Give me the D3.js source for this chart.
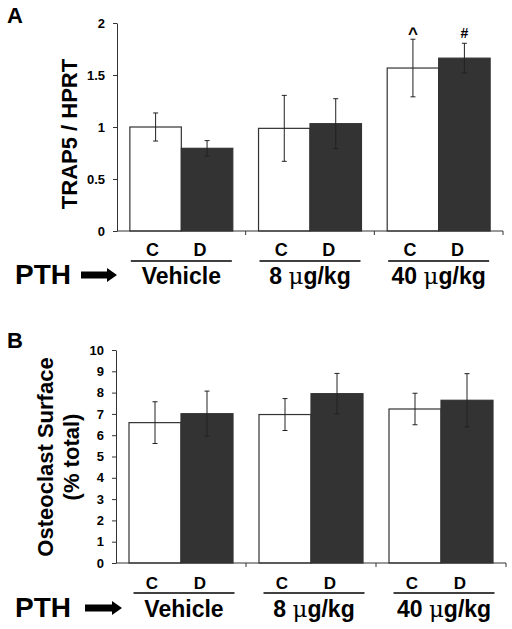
<!DOCTYPE html>
<html>
<head>
<meta charset="utf-8">
<script src="https://cdn.jsdelivr.net/npm/d3@7"></script>
<style>
html,body{margin:0;padding:0;background:#fff;}
svg{display:block;}
text{font-family:"Liberation Sans",Arial,sans-serif;font-weight:bold;fill:#000;}
</style>
</head>
<body>
<svg id="chart" width="512" height="629"></svg>
<script>
// ---- data ----
const groups = ["Vehicle", "8 \u03bcg/kg", "40 \u03bcg/kg"];
const subgroups = ["C", "D"];
const trapMeans = [[1.00, 0.795], [0.987, 1.032], [1.567, 1.662]];
const trapErr   = [[0.135, 0.074], [0.317, 0.24], [0.277, 0.143]];
const trapMarks = [["", ""], ["", ""], ["^", "#"]];
const ocMeans = [[6.59, 7.01], [6.97, 7.95], [7.23, 7.64]];
const ocErr   = [[0.98, 1.06], [0.75, 0.95], [0.74, 1.25]];
const trapTicks = [0, 0.5, 1, 1.5, 2];
const ocTicks = [0,1,2,3,4,5,6,7,8,9,10];

const svg = d3.select("#chart");
const fills = {C: "#ffffff", D: "#333333"};
const lineCol = "#333";

function groupLabel(sel, label) {
  // render the Greek mu in a lighter serif face, like the original
  const parts = label.split("\u03bc");
  parts.forEach((p, i) => {
    if (i > 0) sel.append("tspan").attr("font-family", "DejaVu Serif, serif")
      .attr("font-weight", "normal").text("\u03bc");
    sel.append("tspan").text(p);
  });
}

function panel(cfg) {
  const g = svg.append("g");
  const x = d3.scaleBand().domain(groups).range([cfg.x0, cfg.x1]).padding(0);
  const xs = d3.scaleBand().domain(subgroups).range([0, x.bandwidth()]).paddingInner(0).paddingOuter(0.25);
  const y = d3.scaleLinear().domain(cfg.domain).range([cfg.yb, cfg.yt]);

  groups.forEach((grp, gi) => {
    subgroups.forEach((s, si) => {
      const bx = x(grp) + xs(s);
      const v = cfg.means[gi][si];
      g.append("rect")
        .attr("x", bx).attr("y", y(v))
        .attr("width", xs.bandwidth()).attr("height", y(0) - y(v))
        .attr("fill", fills[s]).attr("stroke", lineCol).attr("stroke-width", 1.2);
      const cx = bx + xs.bandwidth() / 2;
      const e = cfg.err[gi][si];
      const eg = g.append("g").attr("stroke", "#222").attr("stroke-width", 1);
      eg.append("line").attr("x1", cx).attr("x2", cx).attr("y1", y(v + e)).attr("y2", y(v - e));
      eg.append("line").attr("x1", cx - 2.5).attr("x2", cx + 2.5).attr("y1", y(v + e)).attr("y2", y(v + e));
      eg.append("line").attr("x1", cx - 2.5).attr("x2", cx + 2.5).attr("y1", y(v - e)).attr("y2", y(v - e));
      if (cfg.marks && cfg.marks[gi][si]) {
        const m = cfg.marks[gi][si];
        g.append("text").attr("x", cx).attr("y", y(v + e) - (m === "^" ? 0 : 5))
          .attr("text-anchor", "middle").attr("font-size", m === "^" ? 17 : 14).text(m);
      }
      g.append("text").attr("x", cx + (si === 0 ? -3 : -7)).attr("y", cfg.cdY)
        .attr("text-anchor", "middle").attr("font-size", cfg.cdSize).text(s);
    });
    const gc = x(grp) + x.bandwidth() / 2 + cfg.gOff;
    g.append("line").attr("x1", gc - 50.5).attr("x2", gc + 50.5)
      .attr("y1", cfg.ulY).attr("y2", cfg.ulY).attr("stroke", "#000").attr("stroke-width", 1.5);
    const t = g.append("text").attr("x", gc).attr("y", cfg.glY).attr("text-anchor", "middle")
      .attr("font-size", 23);
    groupLabel(t, grp);
  });

  const ax = g.append("g").attr("transform", `translate(${cfg.x0},0)`)
    .call(d3.axisLeft(y).tickValues(cfg.ticks).tickSize(4).tickSizeOuter(0).tickPadding(8)
      .tickFormat(d3.format("")));
  ax.selectAll("path,line").attr("stroke", lineCol);
  ax.selectAll("text").attr("font-size", 13).attr("font-family", "Liberation Sans, Arial, sans-serif")
    .attr("font-weight", "bold").attr("fill", "#000");

  g.append("line").attr("x1", cfg.x0).attr("x2", cfg.x1).attr("y1", y(0)).attr("y2", y(0))
    .attr("stroke", lineCol).attr("stroke-width", 1);
  groups.forEach(grp => {
    const xe = x(grp) + x.bandwidth();
    g.append("line").attr("x1", xe).attr("x2", xe).attr("y1", y(0)).attr("y2", y(0) + 4)
      .attr("stroke", lineCol);
  });

  g.append("text").attr("x", 15).attr("y", cfg.glY).attr("font-size", 28).text("PTH");
  const ay = cfg.glY - 9;
  const a0 = cfg.arrow[0], a1 = cfg.arrow[1];
  g.append("path")
    .attr("d", `M${a0},${ay - 3.5} L${a1 - 10},${ay - 3.5} L${a1 - 10},${ay - 7} L${a1},${ay} L${a1 - 10},${ay + 7} L${a1 - 10},${ay + 3.5} L${a0},${ay + 3.5} Z`)
    .attr("fill", "#000");

  g.append("text").attr("x", 7).attr("y", cfg.letterY).attr("font-size", 22).text(cfg.letter);
  return {x, y, g};
}

const A = panel({
  x0: 117, x1: 503, yb: 231, yt: 23, domain: [0, 2],
  means: trapMeans, err: trapErr, marks: trapMarks, ticks: trapTicks,
  cdY: 256, cdSize: 18, ulY: 261, glY: 284, gOff: 0, arrow: [81, 117],
  letter: "A", letterY: 23
});
A.g.append("text").attr("transform", "translate(77,134) rotate(-90)")
  .attr("text-anchor", "middle").attr("font-size", 22).text("TRAP5 / HPRT");

const B = panel({
  x0: 116, x1: 506, yb: 563, yt: 350, domain: [0, 10],
  means: ocMeans, err: ocErr, marks: null, ticks: ocTicks,
  cdY: 589, cdSize: 17, ulY: 593, glY: 617, gOff: 3, arrow: [85, 122],
  letter: "B", letterY: 348
});
B.g.append("text").attr("transform", "translate(53,457) rotate(-90)")
  .attr("text-anchor", "middle").attr("font-size", 22).text("Osteoclast Surface");
B.g.append("text").attr("transform", "translate(79,457) rotate(-90)")
  .attr("text-anchor", "middle").attr("font-size", 22).text("(% total)");
</script>
</body>
</html>
